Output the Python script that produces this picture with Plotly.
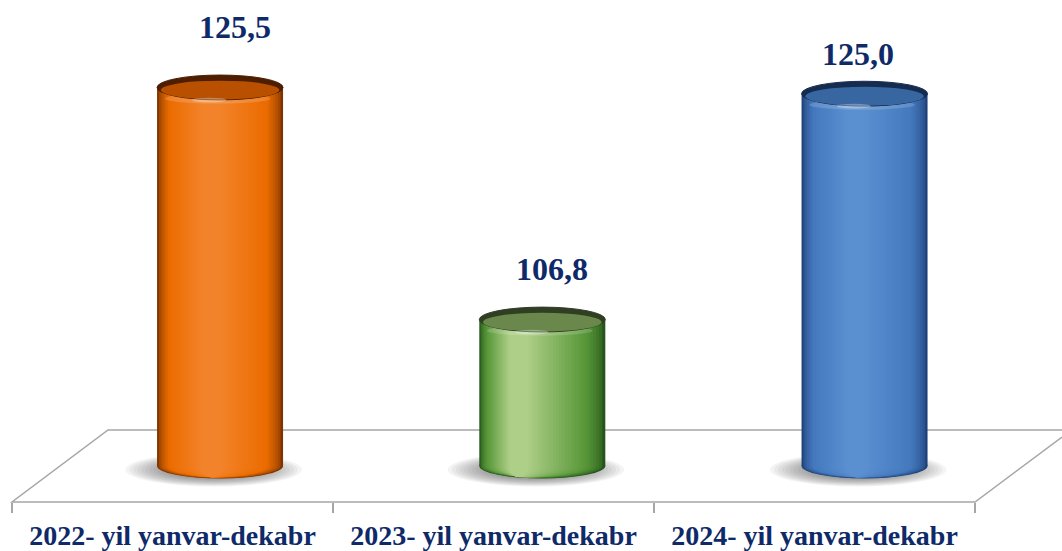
import plotly.graph_objects as go

# ---------------- data ----------------
categories = ["2022- yil yanvar-dekabr", "2023- yil yanvar-dekabr", "2024- yil yanvar-dekabr"]
values = [125.5, 106.8, 125.0]
value_labels = [f"{v:.1f}".replace(".", ",") for v in values]

# ---------------- style ----------------
BASE = 95.0
W = 0.391          # bar width (category units)
DY = 1.0           # ellipse half-height (data units)
N = 26             # gradient layers
NAVY = "#0E2A68"
GRID = "#A6A6A6"

edge_c = ["#7E3300", "#24561A", "#1F427A"]
body_c = ["#EB6C00", "#5A983A", "#4479BE"]
hi_c = ["#F3832A", "#AECF88", "#5A90D0"]
cap_rim = ["#4E1E00", "#303F24", "#152B4F"]
cap_face = ["#B85000", "#6A884C", "#3866A0"]
center_frac = [0.42, 0.28, 0.42]
lab_xshift = [15, 10, -7]
lab_yshift = [60, 51, 40]


def hex2rgb(h):
    h = h.lstrip("#")
    return [int(h[i:i + 2], 16) for i in (0, 2, 4)]


def mix(a, b, t):
    ra, rb = hex2rgb(a), hex2rgb(b)
    return "rgb({},{},{})".format(*[round(ra[i] + (rb[i] - ra[i]) * t) for i in range(3)])


def layer_color(i, t):
    if t < 0.25:
        return mix(edge_c[i], body_c[i], (t / 0.25) ** 0.6)
    return mix(body_c[i], hi_c[i], (t - 0.25) / 0.75)


fig = go.Figure()
shapes = []


def px(x, y):
    return x / 1062, (551 - y) / 551


# floor outline
pts = [px(1062, 430), px(108, 430), px(12, 502), px(975, 502), px(1062, 437)]
path = "M " + " L ".join(f"{x:.4f},{y:.4f}" for x, y in pts)
shapes.append(dict(type="path", xref="paper", yref="paper", path=path,
                   line=dict(color=GRID, width=1.5), layer="below"))

# soft shadows under bars
for i in range(len(values)):
    for s in range(14):
        f = 1 - s * 0.045
        shapes.append(dict(type="circle", xref="x", yref="y", layer="below",
                           x0=i - 0.02 - W * 0.70 * f, x1=i - 0.02 + W * 0.70 * f,
                           y0=BASE - 0.3 - 1.35 * f, y1=BASE - 0.3 + 1.35 * f,
                           fillcolor="rgba(50,50,50,0.055)", line=dict(width=0)))

# gradient bar layers + rounded bottoms
for k in range(N):
    t = k / (N - 1)
    wk = W * (1 - 0.85 * t)
    offs = [-W / 2 + (W - wk) * center_frac[i] for i in range(len(values))]
    cols = [layer_color(i, t) for i in range(len(values))]
    fig.add_trace(go.Bar(
        x=categories, y=[v - BASE for v in values], base=BASE,
        width=[wk] * len(values), offset=offs,
        marker=dict(color=cols, line=dict(width=0)),
        hoverinfo="skip", showlegend=False,
    ))
    for i in range(len(values)):
        x0 = i + offs[i]
        dyk = DY * (1 - 0.1 * min(1.0, k / 4))
        shapes.append(dict(type="circle", xref="x", yref="y", layer="below",
                           x0=x0, x1=x0 + wk, y0=BASE - dyk, y1=BASE + dyk,
                           fillcolor=cols[i], line=dict(width=0)))

# caps
for i, v in enumerate(values):
    shapes.append(dict(type="circle", xref="x", yref="y",
                       x0=i - W * 0.44, x1=i + W * 0.40, y0=v - DY * 1.3, y1=v - DY * 0.5,
                       fillcolor="rgba(255,255,255,0.16)", line=dict(width=0)))
    shapes.append(dict(type="circle", xref="x", yref="y",
                       x0=i - W / 2, x1=i + W / 2, y0=v - DY, y1=v + DY,
                       fillcolor=cap_rim[i], line=dict(color=cap_rim[i], width=1)))
    shapes.append(dict(type="circle", xref="x", yref="y",
                       x0=i - W * 0.47, x1=i + W * 0.47, y0=v - DY * 0.97, y1=v + DY * 0.55,
                       fillcolor=cap_face[i], line=dict(width=0)))
    shapes.append(dict(type="circle", xref="x", yref="y",
                       x0=i - W * 0.22, x1=i + W * 0.05, y0=v - DY * 1.2, y1=v - DY * 0.82,
                       fillcolor="rgba(255,255,255,0.30)", line=dict(width=0)))

# value labels
annotations = []
for i, v in enumerate(values):
    annotations.append(dict(x=i, y=v, xref="x", yref="y", text=f"<b>{value_labels[i]}</b>",
                            showarrow=False, xshift=lab_xshift[i], yshift=lab_yshift[i],
                            font=dict(family="Liberation Serif", size=32, color=NAVY)))

# invisible trace that carries the category label axis
fig.add_trace(go.Scatter(x=list(range(len(categories))), y=[BASE] * len(categories),
                         xaxis="x2", yaxis="y", mode="markers", opacity=0,
                         hoverinfo="skip", showlegend=False))

fig.update_layout(
    width=1062, height=551,
    margin=dict(l=0, r=0, t=0, b=0, autoexpand=False),
    paper_bgcolor="white", plot_bgcolor="rgba(0,0,0,0)",
    barmode="overlay", showlegend=False, hovermode=False,
    shapes=shapes, annotations=annotations,
    xaxis=dict(type="category", domain=[0.0555, 0.9658], range=[-0.5, 2.5],
               visible=False, fixedrange=True),
    xaxis2=dict(domain=[12 / 1062, 975 / 1062], range=[-0.5, 2.5], anchor="free",
                position=(551 - 502) / 551, showgrid=False, zeroline=False,
                showline=False, tickvals=list(range(len(categories))), ticktext=categories,
                ticks="", ticklabelstandoff=14,
                minor=dict(tickvals=[-0.5, 0.5, 1.5, 2.5], ticks="outside", ticklen=10,
                           tickcolor=GRID, tickwidth=1.5, showgrid=False),
                tickfont=dict(family="Liberation Serif", size=28, color=NAVY, weight="bold"),
                fixedrange=True),
    yaxis=dict(range=[92, 132], domain=[(551 - 503.2) / 551, (551 - 6.8) / 551],
               visible=False, fixedrange=True),
)

fig.write_html("out.html", config={"displayModeBar": False},
               post_script="document.body.style.margin='0';document.body.style.overflow='hidden';")
